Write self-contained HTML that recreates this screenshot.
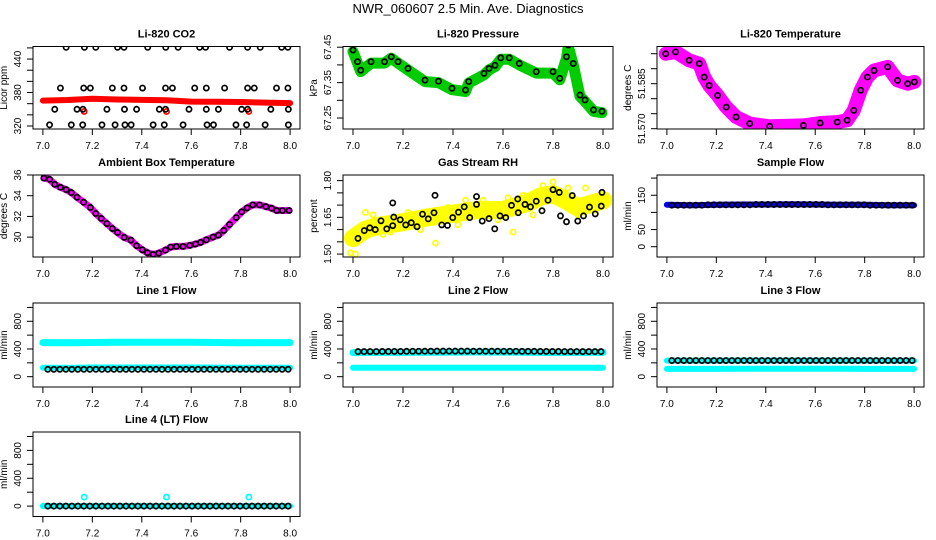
<!DOCTYPE html>
<html><head><meta charset="utf-8"><style>
html,body{margin:0;padding:0;background:#fff;}
svg{display:block;font-family:"Liberation Sans",Arial,sans-serif;}
</style></head><body>
<svg id="chart" width="936" height="540" viewBox="0 0 936 540">
<text x="468" y="13" text-anchor="middle" font-size="13">NWR_060607  2.5 Min. Ave. Diagnostics</text>
</svg>
<script>
// ---- data ----
const co2Levels = [461, 388, 350, 322];
const co2LevelTimes = [
 [7.094,7.168,7.214,7.302,7.328,7.424,7.497,7.547,7.634,7.658,7.755,7.828,7.879,7.966,7.991],
 [7.071,7.165,7.192,7.281,7.328,7.403,7.496,7.524,7.614,7.661,7.735,7.828,7.855,7.945,7.991],
 [7.048,7.138,7.162,7.259,7.330,7.379,7.471,7.496,7.591,7.661,7.710,7.804,7.828,7.922,7.993],
 [7.027,7.115,7.161,7.239,7.292,7.332,7.357,7.446,7.491,7.567,7.664,7.690,7.781,7.824,7.899,7.993]
];
const co2RedT = [7.0,7.1,7.2,7.3,7.4,7.5,7.6,7.7,7.8,7.9,8.0];
const co2RedV = [365.6,366.5,368.8,367.5,366.8,366.0,363.8,363.5,363.0,362.0,361.0];
const co2RedOutT = [7.167,7.5,7.833];
const co2RedOutV = [346,346,346];

const presT = [7.0,7.018,7.031,7.072,7.126,7.153,7.18,7.22,7.288,7.342,7.396,7.45,7.463,7.524,7.544,7.568,7.591,7.625,7.665,7.733,7.8,7.827,7.854,7.861,7.881,7.908,7.928,7.962,7.996];
const presV = [67.438,67.405,67.381,67.405,67.405,67.419,67.405,67.386,67.353,67.35,67.33,67.325,67.349,67.372,67.386,67.395,67.416,67.416,67.4,67.377,67.377,67.358,67.419,67.452,67.4,67.311,67.297,67.269,67.265];

const tempT = [6.995,7.035,7.09,7.131,7.151,7.171,7.205,7.24,7.28,7.335,7.416,7.552,7.62,7.689,7.729,7.756,7.784,7.811,7.838,7.893,7.933,7.974,8.001];
const tempV = [51.5950,51.5956,51.5928,51.5917,51.5872,51.5844,51.5811,51.5772,51.5739,51.5717,51.5708,51.5711,51.5719,51.5722,51.5728,51.5761,51.5828,51.5872,51.5894,51.5906,51.5861,51.5850,51.5856];

const ambT = [7.004,7.027,7.048,7.071,7.094,7.115,7.138,7.165,7.192,7.214,7.236,7.259,7.281,7.302,7.329,7.356,7.379,7.402,7.423,7.446,7.469,7.496,7.517,7.540,7.567,7.594,7.617,7.638,7.661,7.688,7.710,7.732,7.755,7.782,7.804,7.826,7.849,7.876,7.902,7.925,7.946,7.969,7.996];
const ambV = [35.70,35.58,35.10,34.81,34.59,34.30,33.85,33.37,32.86,32.28,31.80,31.31,30.83,30.45,29.97,29.71,29.17,28.78,28.49,28.33,28.46,28.75,29.04,29.10,29.10,29.20,29.33,29.49,29.74,30.00,30.19,30.64,31.22,31.89,32.44,32.82,33.11,33.11,32.95,32.79,32.57,32.57,32.57];

const rhBandT = [7.0,7.05,7.1,7.2,7.3,7.4,7.5,7.6,7.7,7.75,7.8,7.85,7.9,8.0];
const rhBandV = [1.565,1.60,1.615,1.63,1.65,1.665,1.68,1.68,1.71,1.735,1.745,1.72,1.69,1.72];
const rhOutT = [6.99,7.01,7.33,7.64,7.80,7.05,7.45,7.93,7.08,7.12,7.22,7.27,7.38,7.52,7.58,7.68,7.72,7.86,7.97,7.15,7.42,7.62,7.76,7.90];
const rhOutV = [1.505,1.50,1.545,1.59,1.795,1.67,1.72,1.77,1.66,1.58,1.67,1.60,1.69,1.72,1.64,1.74,1.66,1.77,1.68,1.59,1.62,1.73,1.78,1.66];
const rhT = [7.020,7.045,7.067,7.089,7.112,7.135,7.159,7.159,7.163,7.189,7.211,7.233,7.256,7.278,7.301,7.324,7.328,7.355,7.378,7.399,7.422,7.445,7.467,7.494,7.494,7.517,7.544,7.567,7.588,7.611,7.634,7.659,7.661,7.688,7.710,7.733,7.756,7.780,7.800,7.825,7.830,7.854,7.877,7.899,7.922,7.946,7.969,7.996,7.993];
const rhV = [1.564,1.596,1.607,1.600,1.636,1.603,1.616,1.709,1.651,1.640,1.619,1.628,1.612,1.663,1.644,1.669,1.740,1.619,1.617,1.649,1.671,1.693,1.649,1.735,1.703,1.635,1.645,1.603,1.656,1.649,1.699,1.725,1.669,1.703,1.693,1.716,1.677,1.720,1.763,1.752,1.656,1.632,1.739,1.635,1.656,1.692,1.664,1.752,1.696];

const bandT = [7.0,7.1,7.2,7.3,7.4,7.5,7.6,7.7,7.8,7.9,8.0];
const sampBlue = [122,121,122,123,123,124,123,122,122,121,121];
const line1CyanHi = [492,490,494,497,498,498,497,494,490,492,492];
const line1CyanLo = [128,127,132,132,132,133,133,131,130,130,130];
const line2CyanHi = [348,350,350,354,355,356,355,352,349,350,350];
const line2CyanLo = [128,128,128,128,128,128,128,128,128,128,128];
const line3CyanHi = [232,232,232,233,233,233,233,232,232,232,232];
const line3CyanLo = [113,113,113,114,114,114,114,114,113,113,113];
const line4Cyan = [2,2,2,2,2,2,2,2,2,2,2];
const line4OutT = [7.167,7.5,7.833];
const line4OutV = [130,130,130];

const flowT = Array.from({length:41},(_, i)=>7.02+i*0.0243);
const sampBlack = [121,121,121,121,121,121,122,122,122,122,122,122,122,122,123,123,123,123,123,123,123,123,123,123,123,123,122,122,122,122,122,122,122,121,121,121,121,121,121,121,121];
const line1Black = [106,106,106,106,106,106,106,106,106,106,106,106,106,106,106,106,106,106,106,106,106,106,106,106,106,106,106,106,106,106,106,106,106,106,106,106,106,106,106,106,106];
const line2Black = [362,362,363,363,364,364,365,365,366,367,367,368,368,369,369,369,369,369,369,368,368,368,368,368,367,367,367,366,366,366,365,365,364,364,363,363,363,362,362,362,362];
const line3Black = [233,233,233,233,233,233,233,233,233,233,233,233,233,233,233,233,233,233,233,233,233,233,233,233,233,233,233,233,233,233,233,233,233,233,233,233,233,233,233,233,233];
const line4Black = [0,0,0,0,0,0,0,0,0,0,0,0,0,0,0,0,0,0,0,0,0,0,0,0,0,0,0,0,0,0,0,0,0,0,0,0,0,0,0,0,0];

const xTickVals = [7.0,7.2,7.4,7.6,7.8,8.0];

// ---- layout / helpers ----
const NS = 'http://www.w3.org/2000/svg';
const svg = document.getElementById('chart');
const COLS = [[33,300],[343,613],[657,924]];
const ROWS = [[46.5,129],[175,257],[303,387],[432,516.5]];
function mk(tag, attrs, parent){
  const e = document.createElementNS(NS, tag);
  for (const k in attrs) e.setAttribute(k, attrs[k]);
  (parent||svg).appendChild(e);
  return e;
}
function panel(key, col, row, ylo, yhi, yTicks, yLabels, ylab, title){
  const [x0,x1] = COLS[col], [y0,y1] = ROWS[row];
  const g = mk('g', {});
  
  
  const sx = t => x0 + (t - 6.96) / 1.08 * (x1 - x0);
  const sy = v => y1 - (v - ylo) / (yhi - ylo) * (y1 - y0);
  const clipId = 'clip-' + key;
  const cp = mk('clipPath', {id: clipId}, g);
  mk('rect', {x: x0, y: y0, width: x1-x0, height: y1-y0}, cp);
  const t = mk('text', {x: (x0+x1)/2, y: y0-9, 'text-anchor':'middle', 'font-size':'11', 'font-weight':'bold'}, g);
  t.textContent = title;
  
  
  const xa = mk('g', {}, g);
  
  
  xTickVals.forEach(v => {
    const px = sx(v);
    mk('line', {x1: px, x2: px, y1: y1, y2: y1+6, stroke:'#000', 'stroke-width':1}, xa);
    const lt = mk('text', {x: px, y: y1+20, 'text-anchor':'middle', 'font-size':'10'}, xa);
    lt.textContent = v.toFixed(1);
    
    
  });
  const ya = mk('g', {}, g);
  
  
  yTicks.forEach(v => {
    const py = sy(v);
    mk('line', {x1: x0-6, x2: x0, y1: py, y2: py, stroke:'#000', 'stroke-width':1}, ya);
  });
  yLabels.forEach(s => {
    const py = sy(parseFloat(s));
    const lt = mk('text', {x: x0-12, y: py, 'text-anchor':'middle', 'font-size':'10', transform:`rotate(-90 ${x0-12} ${py})`}, ya);
    lt.textContent = s;
    
    
  });
  const yt = mk('text', {x: x0-26, y: (y0+y1)/2, 'text-anchor':'middle', 'font-size':'10', transform:`rotate(-90 ${x0-26} ${(y0+y1)/2})`}, g);
  yt.textContent = ylab;
  
  
  const plot = mk('g', {'clip-path': `url(#${clipId})`}, g);
  
  
  const box = mk('rect', {x: x0, y: y0, width: x1-x0, height: y1-y0, fill:'none', stroke:'#000', 'stroke-width':1}, g);
  
  
  return {sx, sy, plot, box, g};
}
function band(p, ts, vs, color, w, name){
  const pts = ts.map((t,i) => p.sx(t).toFixed(1) + ',' + p.sy(vs[i]).toFixed(1)).join(' ');
  const pl = mk('polyline', {points: pts, fill:'none', stroke: color, 'stroke-width': w, 'stroke-linejoin':'round', 'stroke-linecap':'round'}, p.plot);
  
  
}
function dots(p, ts, vs, color, name){
  const g = mk('g', {}, p.plot);
  
  
  ts.forEach((t,i) => {
    const c = mk('circle', {cx: p.sx(t), cy: p.sy(vs[i]), r: 2.6, fill:'none', stroke: color, 'stroke-width': 1.7}, g);
    
    
  });
}
function rng(a,b,s){const r=[];for(let v=a;v<=b+1e-9;v+=s)r.push(+v.toFixed(4));return r;}
const flowTicks = rng(0,1000,200), flowLabels = ['0','400','800'];

// ---- panels ----
let p = panel('co2', 0, 0, 314.6, 462.5, rng(320,460,20), ['320','380','440'], 'Licor ppm', 'Li-820 CO2');
band(p, co2RedT, co2RedV, '#ff0000', 6, 'co2-red-series');
dots(p, co2RedOutT, co2RedOutV, '#ff0000', 'co2-red-outliers');
co2Levels.forEach((lv, k) => dots(p, co2LevelTimes[k], co2LevelTimes[k].map(() => lv), '#000', 'co2-black-series'));

p = panel('pressure', 1, 0, 67.219, 67.452, rng(67.25,67.45,0.05), ['67.25','67.35','67.45'], 'kPa', 'Li-820 Pressure');
band(p, presT, presV, '#00cc00', 11, 'pressure-green-series');
dots(p, presT, presV.map(v => v + 0.004), '#000', 'pressure-black-series');

p = panel('li-temp', 2, 0, 51.5699, 51.5974, rng(51.570,51.595,0.005), ['51.570','51.585'], 'degrees C', 'Li-820 Temperature');
band(p, tempT, tempV, '#ff00ff', 14, 'li-temp-magenta-series');
dots(p, tempT, tempV, '#000', 'li-temp-black-series');

p = panel('ambient', 0, 1, 28.08, 36.0, [30,32,34,36], ['30','32','34','36'], 'degrees C', 'Ambient Box Temperature');
band(p, ambT, ambV, '#ff00ff', 7, 'ambient-magenta-series');
dots(p, ambT, ambV, '#000', 'ambient-black-series');

p = panel('rh', 1, 1, 1.488, 1.823, rng(1.50,1.80,0.05), ['1.50','1.65','1.80'], 'percent', 'Gas Stream RH');
band(p, rhBandT, rhBandV, '#ffff00', 18, 'rh-yellow-series');
dots(p, rhOutT, rhOutV, '#ffff00', 'rh-yellow-outliers');
dots(p, rhT, rhV, '#000', 'rh-black-series');

p = panel('sample-flow', 2, 1, -30, 209, rng(0,200,50), ['0','50','150'], 'ml/min', 'Sample Flow');
band(p, bandT, sampBlue, '#0000ff', 6, 'sample-flow-blue-series');
dots(p, flowT, sampBlack, '#000', 'sample-flow-black-series');

p = panel('line1', 0, 2, -149, 1064, flowTicks, flowLabels, 'ml/min', 'Line 1 Flow');
band(p, bandT, line1CyanHi, '#00ffff', 7, 'line1-cyan-upper');
band(p, bandT, line1CyanLo, '#00ffff', 6, 'line1-cyan-lower');
dots(p, flowT, line1Black, '#000', 'line1-black-series');

p = panel('line2', 1, 2, -149, 1064, flowTicks, flowLabels, 'ml/min', 'Line 2 Flow');
band(p, bandT, line2CyanHi, '#00ffff', 7, 'line2-cyan-upper');
band(p, bandT, line2CyanLo, '#00ffff', 6, 'line2-cyan-lower');
dots(p, flowT, line2Black, '#000', 'line2-black-series');

p = panel('line3', 2, 2, -149, 1064, flowTicks, flowLabels, 'ml/min', 'Line 3 Flow');
band(p, bandT, line3CyanHi, '#00ffff', 6, 'line3-cyan-upper');
band(p, bandT, line3CyanLo, '#00ffff', 6, 'line3-cyan-lower');
dots(p, flowT, line3Black, '#000', 'line3-black-series');

p = panel('line4', 0, 3, -149, 1064, flowTicks, flowLabels, 'ml/min', 'Line 4 (LT) Flow');
band(p, bandT, line4Cyan, '#00ffff', 6, 'line4-cyan-series');
dots(p, line4OutT, line4OutV, '#00ffff', 'line4-cyan-outliers');
dots(p, flowT, line4Black, '#000', 'line4-black-series');
</script>
</body></html>
